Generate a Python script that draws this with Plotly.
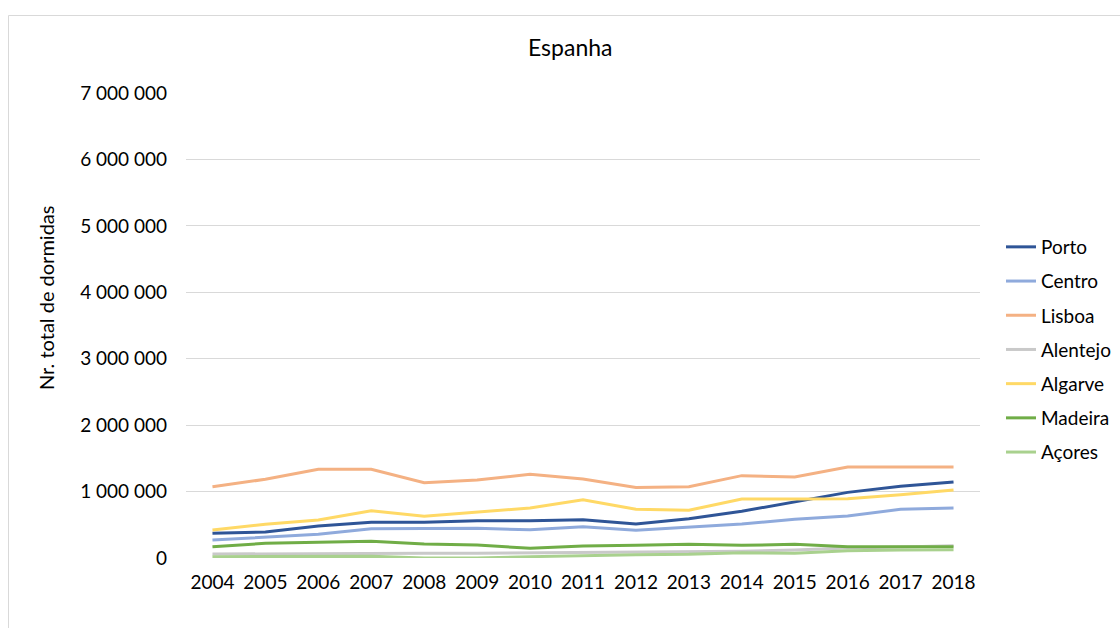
import plotly.graph_objects as go

years = ["2004", "2005", "2006", "2007", "2008", "2009", "2010", "2011",
         "2012", "2013", "2014", "2015", "2016", "2017", "2018"]

porto = [371000, 391000, 482000, 537000, 537000, 562000, 562000, 577000,
         512000, 592000, 703000, 848000, 988000, 1079000, 1144000]
centro = [271000, 311000, 356000, 441000, 441000, 446000, 426000, 471000,
          416000, 461000, 512000, 582000, 632000, 733000, 753000]
lisboa = [1073000, 1185000, 1335000, 1335000, 1134000, 1174000, 1260000, 1190000,
          1060000, 1073000, 1240000, 1220000, 1370000, 1370000, 1370000]
alentejo = [60000, 65000, 70000, 75000, 70000, 70000, 75000, 80000,
            80000, 85000, 100000, 120000, 150000, 165000, 185000]
algarve = [420000, 507000, 572000, 712000, 627000, 692000, 753000, 878000,
           733000, 718000, 888000, 888000, 893000, 953000, 1024000]
madeira = [171000, 221000, 236000, 251000, 211000, 196000, 146000, 181000,
           191000, 206000, 191000, 206000, 171000, 171000, 171000]
acores = [20000, 25000, 30000, 25000, 0, 0, 20000, 40000,
          50000, 55000, 80000, 70000, 110000, 120000, 125000]

series_names = ["Porto", "Centro", "Lisboa", "Alentejo", "Algarve", "Madeira", "Açores"]
series_values = [porto, centro, lisboa, alentejo, algarve, madeira, acores]
series_colors = ["#2F5597", "#8FAADC", "#F4B183", "#C9C9C9", "#FFD966", "#70AD47", "#A9D18E"]

y_tickvals = [0, 1000000, 2000000, 3000000, 4000000, 5000000, 6000000, 7000000]
y_ticktext = ["0", "1 000 000", "2 000 000", "3 000 000", "4 000 000",
              "5 000 000", "6 000 000", "7 000 000"]

FONT = "Lato, 'Open Sans', sans-serif"

fig = go.Figure()
for name, vals, col in zip(series_names, series_values, series_colors):
    fig.add_trace(go.Scatter(
        x=years, y=vals, name=name, mode="lines",
        line=dict(color=col, width=3),
        legendgroup=name,
    ))

L, R, T, B = 186, 140, 93, 70
W, H = 1120, 628
pw, ph = W - L - R, H - T - B

def px_x(px):
    return (px - L) / pw

def px_y(py):
    return (H - B - py) / ph

fig.update_layout(
    width=W, height=H,
    margin=dict(l=L, r=R, t=T, b=B, autoexpand=False),
    paper_bgcolor="white", plot_bgcolor="white",
    font=dict(family=FONT, size=19, color="#000000"),
    showlegend=True,
    legend=dict(
        x=px_x(1001), y=px_y(228), xanchor="left", yanchor="top",
        font=dict(family=FONT, size=19, color="#000000"),
        tracegroupgap=6.5, itemwidth=30, bgcolor="rgba(0,0,0,0)",
    ),
    xaxis=dict(
        type="category", range=[-0.5, len(years) - 0.5],
        showgrid=False, showline=False, zeroline=False,
        ticks="", tickfont=dict(family=FONT, size=19, color="#000000"),
        ticklabelstandoff=11,
    ),
    yaxis=dict(
        range=[0, 7000000], tickvals=y_tickvals, ticktext=y_ticktext,
        showgrid=True, gridcolor="#D9D9D9", gridwidth=1,
        zeroline=False, showline=False, ticks="",
        tickfont=dict(family=FONT, size=19, color="#000000"),
        ticklabelstandoff=18,
    ),
    shapes=[dict(
        type="rect", xref="paper", yref="paper",
        x0=px_x(8.5), y0=px_y(700), x1=px_x(1200), y1=px_y(15.5),
        line=dict(color="#D9D9D9", width=1), fillcolor="rgba(0,0,0,0)",
        layer="below",
    )],
    annotations=[
        dict(text="Espanha", xref="paper", yref="paper",
             x=px_x(570), y=px_y(47), xanchor="center", yanchor="middle",
             showarrow=False, font=dict(family=FONT, size=23, color="#000000")),
        dict(text="Nr. total de dormidas", xref="paper", yref="paper",
             x=px_x(46), y=px_y(298), xanchor="center", yanchor="middle",
             textangle=-90, showarrow=False,
             font=dict(family=FONT, size=20, color="#000000")),
    ],
)

fig.write_html("out.html")
